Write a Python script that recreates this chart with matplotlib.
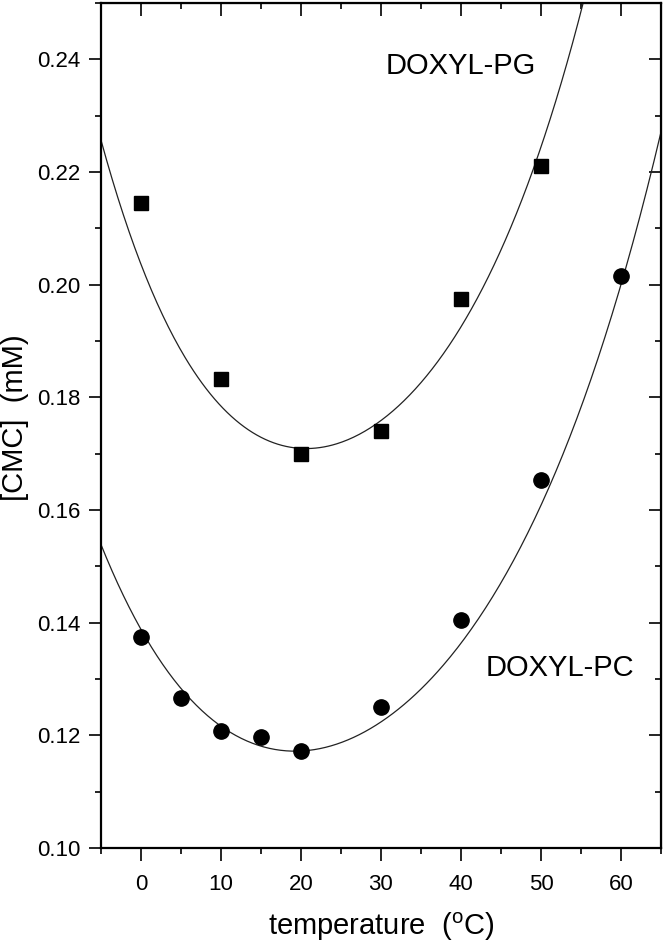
import numpy as np
import matplotlib
matplotlib.use("Agg")
import matplotlib.pyplot as plt
from matplotlib.ticker import MultipleLocator

plt.rcParams['font.family'] = ['Liberation Sans', 'DejaVu Sans']
plt.rcParams['mathtext.fontset'] = 'custom'
plt.rcParams['mathtext.rm'] = 'Liberation Sans'

# measured CMC values
pg_temp = [0, 10, 20, 30, 40, 50]
pg_cmc = [0.2145, 0.1832, 0.1699, 0.1740, 0.1975, 0.2211]

pc_temp = [0, 5, 10, 15, 20, 30, 40, 50, 60]
pc_cmc = [0.1375, 0.1267, 0.1208, 0.1197, 0.1173, 0.1250, 0.1405, 0.1654, 0.2015]

# points
pg_fit_t = [-5, 0, 10, 20, 30, 40, 50, 55]
pg_fit_y = [0.2254, 0.2040, 0.1790, 0.1700, 0.1750, 0.1955, 0.2212, 0.2500]
pc_fit_t = [-5, 0, 5, 10, 20, 30, 40, 50, 60, 65]
pc_fit_y = [0.1538, 0.1393, 0.1277, 0.1217, 0.1175, 0.1224, 0.1361, 0.1609, 0.2002, 0.2270]

fig = plt.figure(figsize=(6.64, 9.46), dpi=100)
ax = fig.add_axes([0.152, 0.1036, 0.8435, 0.8932])

# smooth fit lines
t = np.linspace(-5, 65, 400)
pg_poly = np.polyfit(pg_fit_t, pg_fit_y, 4)
pc_poly = np.polyfit(pc_fit_t, pc_fit_y, 4)
ax.plot(t, np.polyval(pg_poly, t), color='#222222', lw=0.9)
ax.plot(t, np.polyval(pc_poly, t), color='#222222', lw=0.9)

ax.plot(pg_temp, pg_cmc, 's', color='black', ms=10, ls='none')
ax.plot(pc_temp, pc_cmc, 'o', color='black', ms=11, ls='none')

ax.text(30.6, 0.2389, 'DOXYL-PG', fontsize=21, va='center', ha='left')
ax.text(43.1, 0.1320, 'DOXYL-PC', fontsize=21, va='center', ha='left')

ax.set_xlim(-5, 65)
ax.set_ylim(0.10, 0.25)
ax.xaxis.set_major_locator(MultipleLocator(10))
ax.xaxis.set_minor_locator(MultipleLocator(5))
ax.yaxis.set_major_locator(MultipleLocator(0.02))
ax.yaxis.set_minor_locator(MultipleLocator(0.01))
ax.set_xticks([0, 10, 20, 30, 40, 50, 60])
ax.yaxis.set_major_formatter(plt.FormatStrFormatter('%.2f'))

for s in ax.spines.values():
    s.set_linewidth(1.6)

ax.tick_params(which='both', labelsize=16, width=1.2)
ax.tick_params(which='major', length=9)
ax.tick_params(which='minor', length=4.5)
ax.tick_params(axis='x', which='both', direction='out', pad=10)
ax.tick_params(axis='y', which='both', direction='out', pad=6)

# inward ticks on top and right
axt = ax.secondary_xaxis('top')
axt.xaxis.set_major_locator(MultipleLocator(10))
axt.xaxis.set_minor_locator(MultipleLocator(5))
axt.tick_params(which='both', direction='in', labeltop=False, width=1.2)
axt.tick_params(which='major', length=9)
axt.tick_params(which='minor', length=4.5)
axr = ax.secondary_yaxis('right')
axr.yaxis.set_major_locator(MultipleLocator(0.02))
axr.yaxis.set_minor_locator(MultipleLocator(0.01))
axr.tick_params(which='both', direction='in', labelright=False, width=1.2)
axr.tick_params(which='major', length=9)
axr.tick_params(which='minor', length=4.5)

# axis titles placed in figure coordinates
fig.text(381.5 / 664, 1 - 927 / 946, 'temperature  ($^{\\rm o}$C)', fontsize=21,
         ha='center', va='center')
fig.text(15 / 664, 1 - 418 / 946, '[CMC]  (mM)', fontsize=21, rotation=90,
         ha='center', va='center')

fig.savefig('out.png', dpi=100)
